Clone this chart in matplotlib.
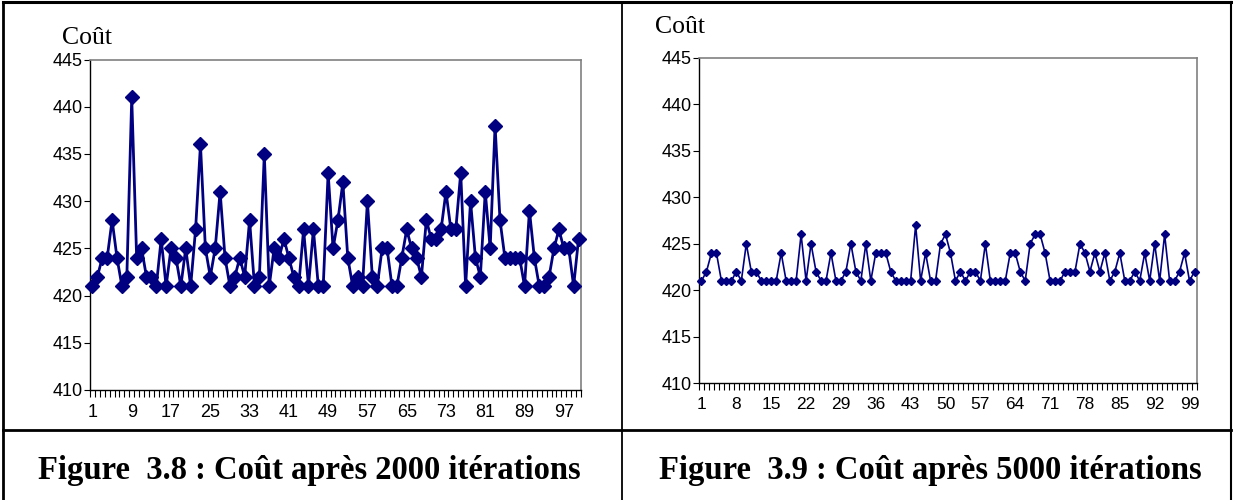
"""
plot.py
=======
Coût de la solution sur 100 relevés, après 2000 et 5000 itérations
(Figures 3.8 et 3.9), dans un tableau à deux colonnes.
"""

import numpy as np
import matplotlib
matplotlib.use("Agg")
import matplotlib.pyplot as plt
from matplotlib import font_manager
from matplotlib.lines import Line2D


# ─────────────────────────────────────────────────────────────
# DATA
# ─────────────────────────────────────────────────────────────

releves = list(range(1, 101))

cout_2000 = [
    421, 422, 424, 424, 428, 424, 421, 422, 441, 424,
    425, 422, 422, 421, 426, 421, 425, 424, 421, 425,
    421, 427, 436, 425, 422, 425, 431, 424, 421, 422,
    424, 422, 428, 421, 422, 435, 421, 425, 424, 426,
    424, 422, 421, 427, 421, 427, 421, 421, 433, 425,
    428, 432, 424, 421, 422, 421, 430, 422, 421, 425,
    425, 421, 421, 424, 427, 425, 424, 422, 428, 426,
    426, 427, 431, 427, 427, 433, 421, 430, 424, 422,
    431, 425, 438, 428, 424, 424, 424, 424, 421, 429,
    424, 421, 421, 422, 425, 427, 425, 425, 421, 426,
]

cout_5000 = [
    421, 422, 424, 424, 421, 421, 421, 422, 421, 425,
    422, 422, 421, 421, 421, 421, 424, 421, 421, 421,
    426, 421, 425, 422, 421, 421, 424, 421, 421, 422,
    425, 422, 421, 425, 421, 424, 424, 424, 422, 421,
    421, 421, 421, 427, 421, 424, 421, 421, 425, 426,
    424, 421, 422, 421, 422, 422, 421, 425, 421, 421,
    421, 421, 424, 424, 422, 421, 425, 426, 426, 424,
    421, 421, 421, 422, 422, 422, 425, 424, 422, 424,
    422, 424, 421, 422, 424, 421, 421, 422, 421, 424,
    421, 425, 421, 426, 421, 421, 422, 424, 421, 422,
]

y_ticks = [410, 415, 420, 425, 430, 435, 440, 445]
x_labels_2000 = [1, 9, 17, 25, 33, 41, 49, 57, 65, 73, 81, 89, 97]
x_labels_5000 = [1, 8, 15, 22, 29, 36, 43, 50, 57, 64, 71, 78, 85, 92, 99]

legende_2000 = "Figure  3.8 : Coût après 2000 itérations"
legende_5000 = "Figure  3.9 : Coût après 5000 itérations"

NAVY = "#000080"
W, H = 1233, 500

installed = {f.name for f in font_manager.fontManager.ttflist}
NARROW = "Liberation Sans Narrow" if "Liberation Sans Narrow" in installed else "Liberation Sans"
plt.rcParams["font.family"] = ["Liberation Sans", "DejaVu Sans"]


# ─────────────────────────────────────────────────────────────
# HELPERS
# ─────────────────────────────────────────────────────────────

def box(x0, y0, x1, y1):
    """Pixel box (top-left origin) -> figure fraction rect."""
    return [x0 / W, 1 - y1 / H, (x1 - x0) / W, (y1 - y0) / H]


def draw_series(ax, y, labels, msize, lw, xfont, xsize):
    ax.plot(releves, y, color=NAVY, linewidth=lw, marker="D",
            markersize=msize, markerfacecolor=NAVY, markeredgecolor=NAVY,
            clip_on=False, zorder=3)

    ax.set_xlim(0.5, len(releves) + 0.5)
    ax.set_ylim(y_ticks[0], y_ticks[-1])
    ax.set_yticks(y_ticks)
    ax.set_xticks(labels)
    ax.set_xticklabels([str(v) for v in labels], fontsize=xsize, family=xfont)
    ax.set_xticks(np.arange(0.5, len(releves) + 1, 1.0), minor=True)

    ax.tick_params(axis="x", which="major", length=0, pad=10)
    ax.tick_params(axis="x", which="minor", length=5, width=0.8,
                   direction="out", color="black")
    ax.tick_params(axis="y", length=4, width=0.8, direction="out",
                   labelsize=13, pad=1)

    for side in ("top", "right"):
        ax.spines[side].set_color("#808080")
        ax.spines[side].set_linewidth(1.2)
    for side in ("left", "bottom"):
        ax.spines[side].set_color("black")
        ax.spines[side].set_linewidth(1.0)


# ─────────────────────────────────────────────────────────────
# FIGURE
# ─────────────────────────────────────────────────────────────

fig = plt.figure(figsize=(W / 100, H / 100), dpi=100)

ax1 = fig.add_axes(box(90, 59.5, 581, 390))
draw_series(ax1, cout_2000, x_labels_2000, msize=6.8, lw=2.0,
            xfont="Liberation Sans", xsize=13)

ax2 = fig.add_axes(box(699, 58, 1197, 383))
draw_series(ax2, cout_5000, x_labels_5000, msize=4.2, lw=1.2,
            xfont=NARROW, xsize=12.5)

# axis titles
fig.text(62 / W, 1 - 38 / H, "Coût", family="Liberation Serif",
         fontsize=18.5, va="center", ha="left")
fig.text(655 / W, 1 - 27 / H, "Coût", family="Liberation Serif",
         fontsize=18.5, va="center", ha="left")

# captions
fig.text(309 / W, 1 - 470 / H, legende_2000, family="Liberation Serif",
         fontweight="bold", fontsize=23.5, ha="center", va="center")
fig.text(930 / W, 1 - 470 / H, legende_5000, family="Liberation Serif",
         fontweight="bold", fontsize=23.5, ha="center", va="center")

# table borders
for (x0, y0, x1, y1, lw) in [
        (3, 2, 1231, 2, 2.2),      # top
        (3, 2, 3, 500, 2.0),       # left
        (1231, 2, 1231, 500, 1.5), # right
        (622, 2, 622, 500, 1.3),   # middle
        (3, 430, 1231, 430, 2.0),  # row separator
]:
    fig.add_artist(Line2D([x0 / W, x1 / W], [1 - y0 / H, 1 - y1 / H],
                          color="black", linewidth=lw,
                          transform=fig.transFigure))

fig.savefig("out.png", dpi=100)
plt.close(fig)
